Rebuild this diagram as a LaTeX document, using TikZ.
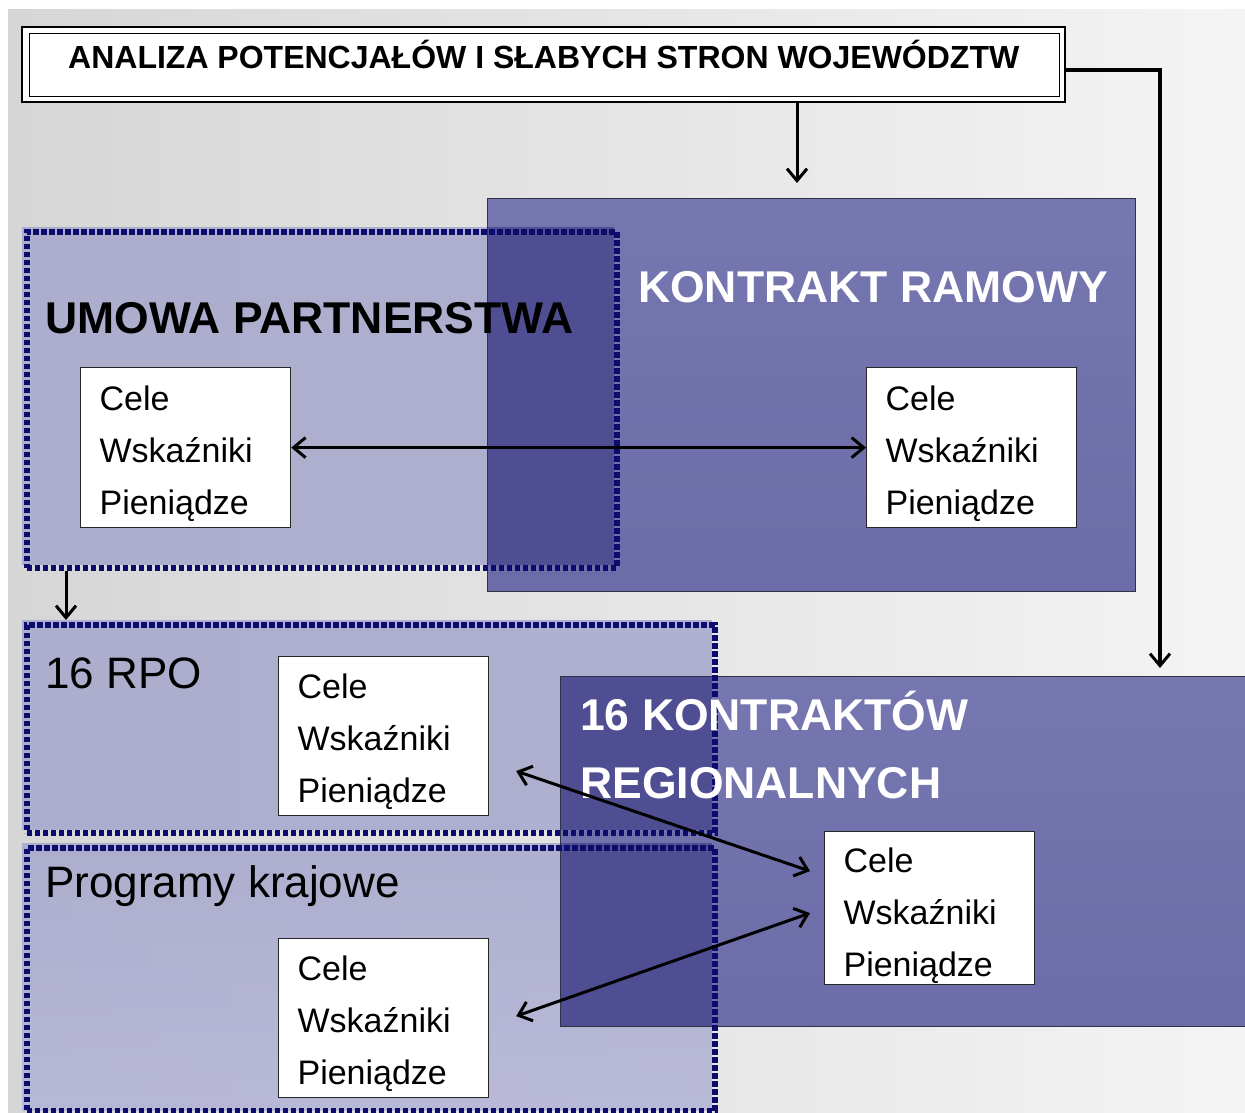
\documentclass[tikz,border=0pt]{standalone}
\usepackage{fontspec}
\setmainfont{Liberation Sans}
\usetikzlibrary{arrows.meta,calc}
\definecolor{bgL}{RGB}{214,214,214}
\definecolor{bgR}{RGB}{244,244,244}
\definecolor{kcol}{RGB}{108,108,168}
\definecolor{kcolB}{RGB}{118,118,176}
\definecolor{ucol}{RGB}{166,166,204}
\definecolor{ucolB}{RGB}{178,178,214}
\definecolor{ovcol}{RGB}{80,78,146}
\definecolor{dotcol}{RGB}{12,12,110}
\newcommand{\cele}{\rule{0pt}{36pt}Cele\\Wskaźniki\\Pieniądze}
\begin{document}
\begin{tikzpicture}[x=1pt,y=-1pt,
  solidbox/.style={draw={rgb,255:red,50;green,50;blue,70},line width=1.2pt},
  dotbox/.style={draw=dotcol,line width=5.5pt,dash pattern=on 5.5pt off 2.5pt},
  cbox/.style={draw=black!85,line width=1.2pt,fill=white,anchor=north west,
    minimum width=210pt,minimum height=160pt,inner xsep=19pt,inner ysep=0pt,
    text width=172pt,align=left,font=\fontsize{34}{52}\selectfont},
  bigtitle/.style={anchor=base west,inner sep=0pt,font=\fontsize{44.5}{68}\selectfont\bfseries},
  regtitle/.style={anchor=base west,inner sep=0pt,font=\fontsize{44}{52}\selectfont},
  conn/.style={line width=3pt,draw=black},
  tip/.style={-{Straight Barb[length=12pt,width=20pt,line width=3pt]}},
  tips/.style={{Straight Barb[length=12pt,width=20pt,line width=3pt]}-{Straight Barb[length=12pt,width=20pt,line width=3pt]}}
]
\useasboundingbox (0,0) rectangle (1245,1113);
% background
\fill[white] (0,0) rectangle (1245,1113);
\shade[left color=bgL,right color=bgR] (8,10) rectangle (1245,1113);

% large solid boxes
\shade[top color=kcolB,bottom color=kcol] (487,198) rectangle (1135,591);
\shade[top color=kcolB,bottom color=kcol] (560,676) rectangle (1245,1026);

% semi-transparent program boxes
\fill[ucol,opacity=0.85] (22,227) rectangle (614,565);
\fill[ucol,opacity=0.85] (22,620) rectangle (712,830);
\shade[top color=ucol,bottom color=ucolB,opacity=0.85] (22,843) rectangle (712,1110);

% overlaps
\fill[ovcol] (487,227) rectangle (614,565);
\fill[ovcol] (560,676) rectangle (712,830);
\fill[ovcol] (560,843) rectangle (712,1026);

% borders of solid boxes
\node[solidbox,anchor=north west,minimum width=648pt,minimum height=393pt,inner sep=0pt] (kr) at (487,198) {};
\node[solidbox,anchor=north west,minimum width=690pt,minimum height=350pt,inner sep=0pt] (k16) at (560,676) {};

% dotted boxes
\node[dotbox,anchor=north west,minimum width=590pt,minimum height=336pt,inner sep=0pt] (up) at (24,229) {};
\node[dotbox,anchor=north west,minimum width=688pt,minimum height=208pt,inner sep=0pt] (rpo) at (24,622) {};
\node[dotbox,anchor=north west,minimum width=688pt,minimum height=263pt,inner sep=0pt] (pk) at (24,845) {};

% title box
\draw[line width=2.8pt,fill=white] (22,27) rectangle (1065,102);
\node[draw=black,line width=1.2pt,anchor=north west,minimum width=1030pt,minimum height=63pt,inner sep=0pt] (title) at (28.5,33) {};
\node[anchor=base west,inner sep=0pt,font=\fontsize{32}{38}\selectfont\bfseries] (titletxt) at (68,69) {ANALIZA POTENCJAŁÓW I SŁABYCH STRON WOJEWÓDZTW};

% titles
\node[bigtitle,text=black] (tup) at (45,333) {UMOWA PARTNERSTWA};
\node[bigtitle,text=white] (tkr) at (638,302) {KONTRAKT RAMOWY};
\node[regtitle] (trpo) at (45,688) {16 RPO};
\node[regtitle] (tpk) at (45,897) {Programy krajowe};
\node[bigtitle,text=white] (tk16a) at (580,730) {16 KONTRAKTÓW};
\node[bigtitle,text=white] (tk16b) at (580,798) {REGIONALNYCH};

% Cele boxes
\node[cbox] (b1) at (80,367) {\cele};
\node[cbox] (b2) at (866,367) {\cele};
\node[cbox,minimum height=159pt] (b3) at (278,656) {\cele};
\node[cbox,minimum height=159pt] (b4) at (278,938) {\cele};
\node[cbox,minimum height=153pt] (b5) at (824,831) {\rule{0pt}{40pt}Cele\\Wskaźniki\\Pieniądze};

% connectors
\coordinate (tb) at (797,102);
\coordinate (tr) at (1065,70);
\coordinate (trc) at (1160,70);
\draw[conn,tip] (tb) -- ($(tb |- kr.north)+(0,-15)$);
\draw[conn,tip,line width=3.2pt] (tr) -- (trc) -- ($(trc |- k16.north)+(0,-8)$);
\draw[conn,tip] ($(up.south west)+(42,0)$) -- ($(rpo.north west)+(42,-2)$);
\draw[conn,tips] (b1.east) -- (b2.west);
\draw[conn,tips] ($(b3.east)+(27,35)$) -- ($(b5.west)+(-14,-37)$);
\draw[conn,tips] ($(b4.east)+(27,-2)$) -- ($(b5.west)+(-14,5)$);
\end{tikzpicture}
\end{document}
